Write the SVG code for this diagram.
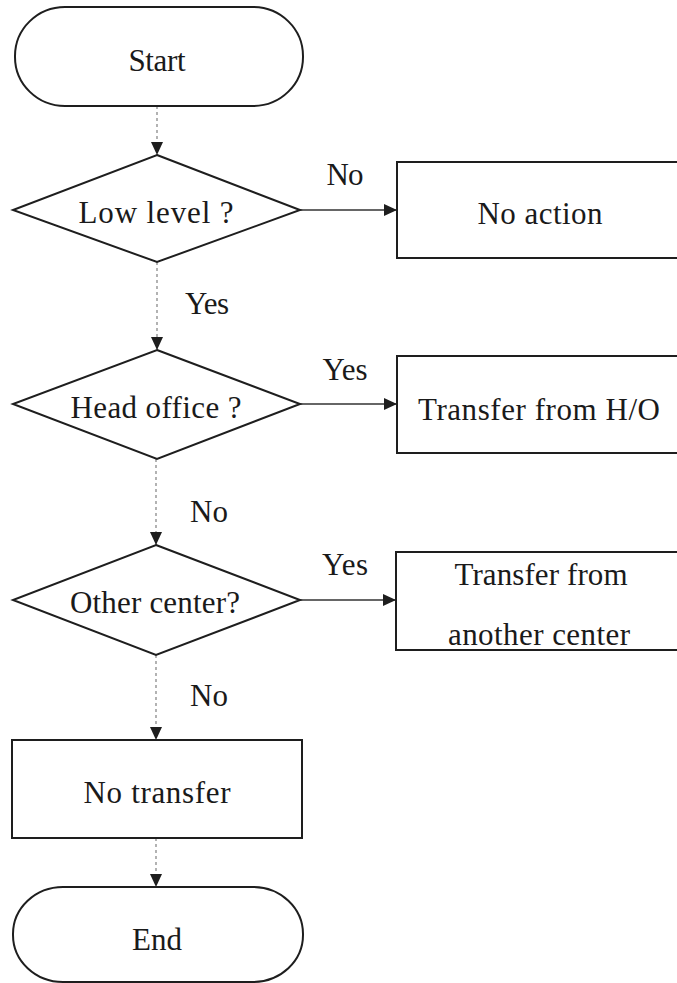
<svg xmlns="http://www.w3.org/2000/svg" width="677" height="983" viewBox="0 0 677 983">
<defs>
<style>
.shape{fill:#ffffff;stroke:#1e1e1e;stroke-width:2}
.box{fill:#ffffff;stroke:#1e1e1e;stroke-width:2}
.t{font-family:"Liberation Serif","Times New Roman",serif;font-size:31px;fill:#1a1a1a;text-anchor:middle}
.vline{stroke:#8a8a8a;stroke-width:1.3;stroke-dasharray:3 3;fill:none}
.hline{stroke:#333333;stroke-width:1.6;fill:none}
</style>
<marker id="arr" markerUnits="userSpaceOnUse" markerWidth="14" markerHeight="12" refX="13" refY="6" orient="auto">
<path d="M0,0 L13,6 L0,12 Z" fill="#1e1e1e"/>
</marker>
</defs>
<rect width="677" height="983" fill="#ffffff"/>
<g id="connectors">
<line class="vline" x1="157" y1="106" x2="157" y2="155" marker-end="url(#arr)"/>
<line class="hline" x1="300" y1="210" x2="397" y2="210" marker-end="url(#arr)"/>
<line class="vline" x1="157" y1="262" x2="157" y2="350" marker-end="url(#arr)"/>
<line class="hline" x1="300" y1="404" x2="397" y2="404" marker-end="url(#arr)"/>
<line class="vline" x1="156" y1="459" x2="156" y2="545" marker-end="url(#arr)"/>
<line class="hline" x1="300" y1="600" x2="396" y2="600" marker-end="url(#arr)"/>
<line class="vline" x1="156" y1="655" x2="156" y2="740" marker-end="url(#arr)"/>
<line class="vline" x1="156" y1="838" x2="156" y2="887" marker-end="url(#arr)"/>
<text class="t" x="345" y="185" textLength="37">No</text>
<text class="t" x="207" y="314" textLength="44">Yes</text>
<text class="t" x="345" y="380" textLength="45">Yes</text>
<text class="t" x="209" y="522" textLength="38">No</text>
<text class="t" x="345" y="575" textLength="46">Yes</text>
<text class="t" x="209" y="706" textLength="38">No</text>
</g>
<g id="start">
<rect class="shape" x="15" y="7" width="288" height="99" rx="50" ry="49"/>
<text class="t" x="157" y="71" textLength="57">Start</text>
</g>
<g id="low-level">
<polygon class="shape" points="157,155 300,210 157,262 13,210"/>
<text class="t" x="156" y="223" textLength="155">Low level ?</text>
</g>
<g id="no-action">
<rect class="box" x="397" y="162" width="300" height="96"/>
<text class="t" x="540" y="224" textLength="125">No action</text>
</g>
<g id="head-office">
<polygon class="shape" points="157,350 300,404 157,459 13,404"/>
<text class="t" x="156" y="418" textLength="171">Head office ?</text>
</g>
<g id="transfer-ho">
<rect class="box" x="397" y="356" width="300" height="97"/>
<text class="t" x="539" y="420" textLength="242">Transfer from H/O</text>
</g>
<g id="other-center">
<polygon class="shape" points="156,545 300,600 156,655 13,600"/>
<text class="t" x="155" y="613" textLength="170">Other center?</text>
</g>
<g id="transfer-other">
<rect class="box" x="396" y="552" width="300" height="98"/>
<text class="t" x="541" y="585" textLength="173">Transfer from</text>
<text class="t" x="539" y="645" textLength="182">another center</text>
</g>
<g id="no-transfer">
<rect class="box" x="12" y="740" width="290" height="98"/>
<text class="t" x="157" y="803" textLength="147">No transfer</text>
</g>
<g id="end">
<rect class="shape" x="13" y="887" width="290" height="95" rx="50" ry="47"/>
<text class="t" x="157" y="950" textLength="50">End</text>
</g>
</svg>
